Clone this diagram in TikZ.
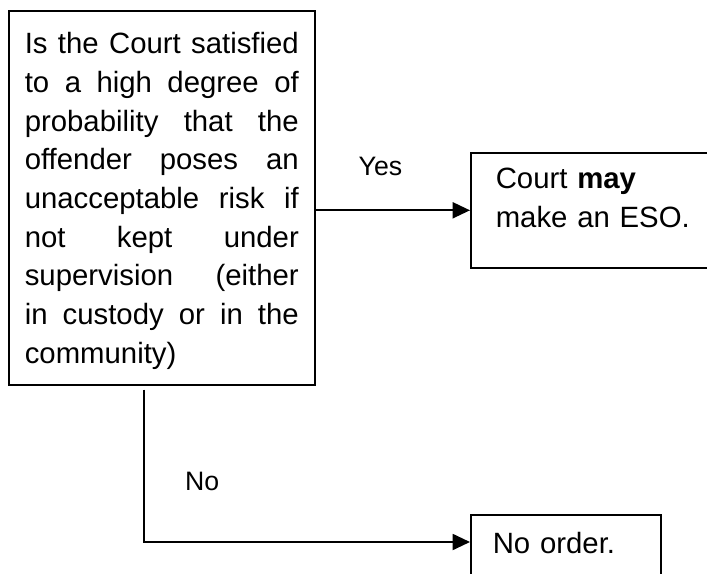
\documentclass[tikz,border=0pt]{standalone}
\usepackage{fontspec}
\setmainfont[Ligatures=CommonOff]{Liberation Sans}
\usetikzlibrary{arrows.meta,positioning}

\begin{document}
\begin{tikzpicture}[x=0.75pt, y=-0.75pt,
  box/.style={draw=black, line width=1.2pt, inner ysep=0pt, anchor=north west, font=\fontsize{22pt}{29pt}\selectfont},
  arr/.style={-{Triangle[length=13pt,width=12pt]}, line width=1.4pt},
  lbl/.style={font=\fontsize{20pt}{24pt}\selectfont}
]
\clip (0,0) rectangle (707,574);
% question and the two outcomes
\node[box, text width=205.5pt, inner xsep=12pt, align=justify, text height=32.25pt, text depth=248.25pt] (question) at (8,10)
  {\tolerance=10000 \hyphenpenalty=10000 Is the Court satisfied\linebreak to a high degree of\linebreak probability that the\linebreak offender poses an\linebreak unacceptable risk if\linebreak not kept under\linebreak supervision (either\linebreak in custody or in the\linebreak community)};
\node[box, text width=172.5pt, inner xsep=18.75pt, align=left, text height=27pt, text depth=59.25pt] (yesbox) at (470,152)
  {Court \textbf{may}\\make an ESO.};
\node[box, text width=109.5pt, inner xsep=16.5pt, align=left, text height=29.25pt, text depth=27.75pt] (nobox) at (470,514)
  {No order.};
% branches
\coordinate (split) at ([xshift=-13.5pt,yshift=-3pt]question.south);
\draw[arr] (question.east |- yesbox.west) -- node[lbl, pos=0.42, above=22pt] (yes) {Yes} (yesbox.west);
\draw[arr] (split) |- node[lbl, pos=0.3, right=27pt] (no) {No} ([yshift=-21pt]nobox.north west);
\end{tikzpicture}
\end{document}
